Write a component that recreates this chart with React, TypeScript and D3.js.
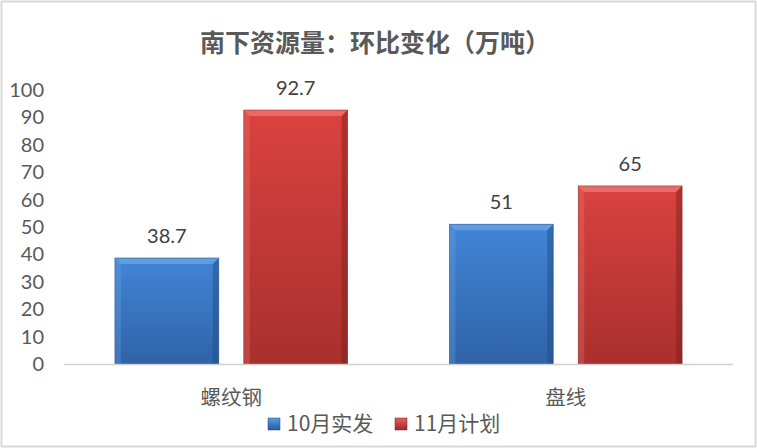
import React from "react";
import * as d3 from "d3";

const categories = ["螺纹钢", "盘线"];
const seriesNames = ["10月实发", "11月计划"];
const octValues = [38.7, 51];
const novValues = [92.7, 65];
const yTicks = [0, 10, 20, 30, 40, 50, 60, 70, 80, 90, 100];
const title = "南下资源量：环比变化（万吨）";

const W = 757;
const H = 448;
const left = 64;
const right = 733;
const top = 90;
const bottom = 364;

const cjk = "'Noto Sans CJK SC', 'Noto Sans', sans-serif";
const num = "Lato, 'Noto Sans', sans-serif";

export default function App() {
  const x0 = d3.scaleBand<string>().domain(categories).range([left, right]).paddingInner(0).paddingOuter(0);
  const x1 = d3.scaleBand<string>().domain(seriesNames).range([0, x0.bandwidth()]).paddingInner(0.194).paddingOuter(0.395);
  const y = d3.scaleLinear().domain([0, 100]).range([bottom, top]);
  const series = [
    { name: seriesNames[0], values: octValues, grad: "gBlue", lgrad: "lgBlue", edgeL: "#6ea4e4", edgeD: "#1f4a80" },
    { name: seriesNames[1], values: novValues, grad: "gRed", lgrad: "lgRed", edgeL: "#ee7a76", edgeD: "#7a1f1c" },
  ];
  const bw = x1.bandwidth();
  return (
    <svg width={W} height={H} style={{ position: "absolute", left: 0, top: 0, background: "#fff" }}>
      <defs>
        <linearGradient id="gBlue" x1="0" y1="0" x2="0" y2="1">
          <stop offset="0" stopColor="#4285d6" />
          <stop offset="1" stopColor="#2f63a8" />
        </linearGradient>
        <linearGradient id="gRed" x1="0" y1="0" x2="0" y2="1">
          <stop offset="0" stopColor="#da423f" />
          <stop offset="1" stopColor="#a8302d" />
        </linearGradient>
        <linearGradient id="lgBlue" x1="0" y1="0" x2="0" y2="1">
          <stop offset="0" stopColor="#5b9be0" />
          <stop offset="1" stopColor="#2a5a9c" />
        </linearGradient>
        <linearGradient id="lgRed" x1="0" y1="0" x2="0" y2="1">
          <stop offset="0" stopColor="#e0605c" />
          <stop offset="1" stopColor="#9e2b28" />
        </linearGradient>
      </defs>
      <rect x={1.5} y={1.5} width={W - 3} height={H - 3} fill="#fff" stroke="#d9d9d9" strokeWidth={2} />
      <text x={375} y={52} textAnchor="middle" fontFamily={cjk} fontWeight="bold" fontSize={25} fill="#595959">
        {title}
      </text>
      {yTicks.map((t) => (
        <text key={t} x={44} y={y(t)} dy="0.35em" textAnchor="end" fontFamily={num} fontSize={20} fill="#595959">
          {t}
        </text>
      ))}
      {series.map((s) =>
        categories.map((c, i) => {
          const bx = (x0(c) as number) + (x1(s.name) as number);
          const by = y(s.values[i]);
          const bh = bottom - by;
          const bev = 6;
          return (
            <g key={s.name + c}>
              <rect x={bx} y={by} width={bw} height={bh} fill={`url(#${s.grad})`} />
              <polygon points={`${bx},${by} ${bx + bw},${by} ${bx + bw - bev},${by + bev} ${bx + bev},${by + bev}`} fill={s.edgeL} opacity={0.75} />
              <polygon points={`${bx},${by} ${bx + bev},${by + bev} ${bx + bev},${bottom} ${bx},${bottom}`} fill={s.edgeL} opacity={0.3} />
              <polygon points={`${bx + bw},${by} ${bx + bw - bev},${by + bev} ${bx + bw - bev},${bottom} ${bx + bw},${bottom}`} fill={s.edgeD} opacity={0.45} />
              <rect x={bx} y={by} width={bw} height={bh} fill="none" stroke={s.edgeD} strokeWidth={0.8} opacity={0.6} />
              <text x={bx + bw / 2} y={by - 22} dy="0.35em" textAnchor="middle" fontFamily={num} fontSize={20} fill="#404040">
                {s.values[i]}
              </text>
            </g>
          );
        })
      )}
      <line x1={left} x2={right} y1={bottom + 0.5} y2={bottom + 0.5} stroke="#d0d0d0" strokeWidth={1.5} />
      {categories.map((c) => (
        <text key={c} x={(x0(c) as number) + x0.bandwidth() / 2} y={398} dy="0.35em" textAnchor="middle" fontFamily={cjk} fontSize={20.5} fill="#595959">
          {c}
        </text>
      ))}
      {series.map((s, i) => {
        const lx = i === 0 ? 268 : 395;
        return (
          <g key={s.name}>
            <rect x={lx} y={418} width={12} height={12} fill={`url(#${s.lgrad})`} stroke={s.edgeD} strokeWidth={0.5} />
            <text x={lx + 19} y={424} dy="0.35em" fontFamily={cjk} fontSize={21} fill="#595959">
              {s.name}
            </text>
          </g>
        );
      })}
    </svg>
  );
}
